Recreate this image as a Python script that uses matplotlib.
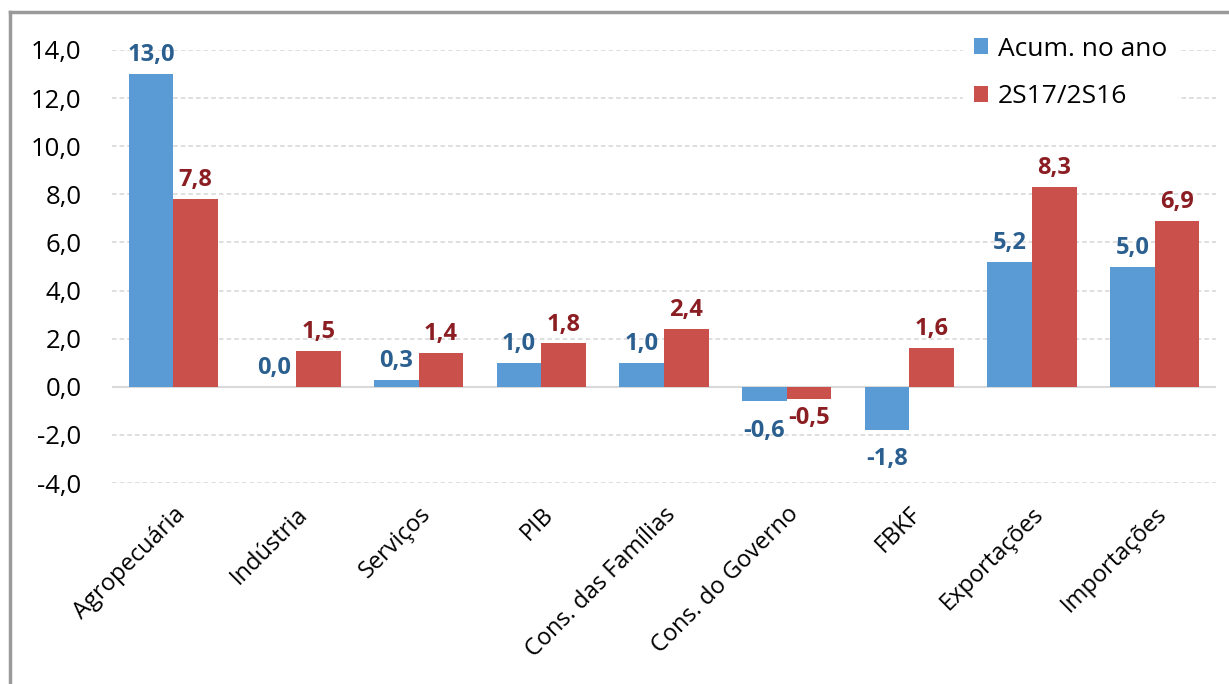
import numpy as np
import matplotlib.pyplot as plt
from matplotlib.ticker import FuncFormatter
from matplotlib.lines import Line2D

categorias = ["Agropecuária", "Indústria", "Serviços", "PIB", "Cons. das Famílias",
              "Cons. do Governo", "FBKF", "Exportações", "Importações"]
acum_ano = [13.0, 0.0, 0.3, 1.0, 1.0, -0.6, -1.8, 5.2, 5.0]
s2_17_16 = [7.8, 1.5, 1.4, 1.8, 2.4, -0.5, 1.6, 8.3, 6.9]
y_ticks = [-4, -2, 0, 2, 4, 6, 8, 10, 12, 14]

azul = "#5B9BD5"
vermelho = "#C9504B"
azul_txt = "#2A5F8F"
verm_txt = "#8B1E22"

plt.rcParams['font.family'] = ['Open Sans', 'DejaVu Sans']

fig = plt.figure(figsize=(12.29, 6.84), dpi=100)
ax = fig.add_axes([112 / 1229, 1 - 483 / 684, (1216 - 112) / 1229, 433 / 684])

x = np.arange(len(categorias))
w = 0.365
b1 = ax.bar(x - w / 2, acum_ano, w, color=azul, label="Acum. no ano", zorder=3)
b2 = ax.bar(x + w / 2, s2_17_16, w, color=vermelho, label="2S17/2S16", zorder=3)

def fmt(v):
    return f"{v:.1f}".replace(".", ",")

# rótulos de dados
for bars, vals, cor in [(b1, acum_ano, azul_txt), (b2, s2_17_16, verm_txt)]:
    for r, v in zip(bars, vals):
        cx = r.get_x() + r.get_width() / 2
        if v >= 0:
            ax.annotate(fmt(v), (cx, v), xytext=(0, 5), textcoords="offset points",
                        ha="center", va="bottom", color=cor, fontsize=17, fontweight="bold")
        else:
            off = -13 if cor == azul_txt and v > -1 else -5
            if cor == azul_txt and v <= -1:
                off = -12
            ax.annotate(fmt(v), (cx, v), xytext=(0, off), textcoords="offset points",
                        ha="center", va="top", color=cor, fontsize=17, fontweight="bold")

ax.set_xlim(-0.5, len(categorias) - 0.5)
ax.set_ylim(-4, 14)
ax.set_yticks(y_ticks)
ax.yaxis.set_major_formatter(FuncFormatter(lambda v, p: fmt(v)))
ax.set_xticks(x)
ax.set_xticklabels(categorias, rotation=45, ha="right", rotation_mode="anchor", fontsize=17)
ax.tick_params(axis="x", length=0, pad=14)
ax.tick_params(axis="y", length=0, pad=22, labelsize=18.5)

for v in y_ticks:
    if v == 0:
        ax.axhline(0, color="#D9D9D9", lw=1.5, zorder=2)
    else:
        ax.axhline(v, color="#D6D6D6", lw=1.1, ls=(0, (3, 2)), zorder=1)

for s in ax.spines.values():
    s.set_visible(False)

leg = ax.legend(loc="upper right", bbox_to_anchor=(0.965, 1.055), frameon=True, framealpha=1,
                edgecolor="white", fontsize=19, handlelength=0.55, handleheight=0.55,
                handletextpad=0.35, labelspacing=0.85, borderaxespad=0)
leg.set_zorder(5)

# moldura
fig.add_artist(Line2D([10 / 1229, 1], [1 - 12 / 684, 1 - 12 / 684], color="#9A9A9A", lw=2.5,
                      transform=fig.transFigure))
fig.add_artist(Line2D([10 / 1229, 10 / 1229], [0, 1 - 12 / 684], color="#9A9A9A", lw=2.5,
                      transform=fig.transFigure))

fig.savefig("out.png", dpi=100)
